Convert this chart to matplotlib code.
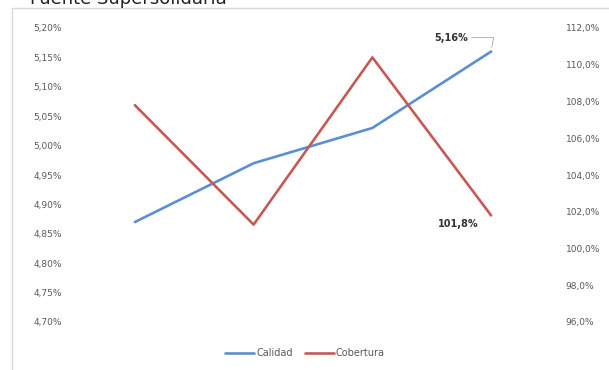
import matplotlib.pyplot as plt
from matplotlib.patches import Rectangle
from matplotlib.ticker import FuncFormatter

# Series
periodos = ["2013", "2014", "2015", "2016"]
calidad = [4.87, 4.97, 5.03, 5.16]
cobertura = [107.8, 101.3, 110.4, 101.8]

ticks_izq = [4.70, 4.75, 4.80, 4.85, 4.90, 4.95, 5.00, 5.05, 5.10, 5.15, 5.20]
ticks_der = [96, 98, 100, 102, 104, 106, 108, 110, 112]

azul = "#5B8FD0"
rojo = "#C55A55"
gris = "#595959"

fig = plt.figure(figsize=(6.09, 3.70), dpi=100)

# marco del grafico
fig.patches.append(Rectangle((12 / 609, -0.1), 1.2, 1 - 8 / 370 + 0.1,
                             transform=fig.transFigure, fill=False,
                             edgecolor="#d9d9d9", linewidth=1.0))
fig.text(30 / 609, 1 - 4 / 370, "Fuente Supersolidaria", fontsize=13,
         color="#222222", va="baseline", ha="left")

ax = fig.add_axes([75.5 / 609, 1 - 322 / 370, 475 / 609, 294 / 370])
ax2 = ax.twinx()

x = range(len(periodos))
l1, = ax.plot(x, calidad, color=azul, lw=1.9, solid_capstyle="round", label="Calidad")
l2, = ax2.plot(x, cobertura, color=rojo, lw=1.9, solid_capstyle="round", label="Cobertura")

ax.set_xlim(-0.5, len(periodos) - 0.5)
ax.set_ylim(4.70, 5.20)
ax2.set_ylim(96, 112)
ax.set_yticks(ticks_izq)
ax2.set_yticks(ticks_der)
ax.yaxis.set_major_formatter(FuncFormatter(lambda v, p: f"{v:.2f}%".replace(".", ",")))
ax2.yaxis.set_major_formatter(FuncFormatter(lambda v, p: f"{v:.1f}%".replace(".", ",")))
ax.set_xticks([])

for a in (ax, ax2):
    for s in a.spines.values():
        s.set_visible(False)
    a.tick_params(axis="y", length=0, labelsize=6.5, labelcolor=gris)
ax.tick_params(axis="y", pad=10)
ax2.tick_params(axis="y", pad=11)

# etiquetas del ultimo dato
ax.annotate(f"{calidad[-1]:.2f}%".replace(".", ","), xy=(3, calidad[-1]),
            xytext=(-17, 10), textcoords="offset points", ha="right", va="center",
            fontsize=7, fontweight="bold", color="#333333",
            arrowprops=dict(arrowstyle="-", color="#a6a6a6", lw=0.6,
                            shrinkA=1, shrinkB=3,
                            connectionstyle="angle,angleA=0,angleB=80,rad=0"))
ax2.annotate(f"{cobertura[-1]:.1f}%".replace(".", ","), xy=(3, cobertura[-1]),
             xytext=(-9, -6), textcoords="offset points", ha="right", va="center",
             fontsize=7, fontweight="bold", color="#333333")

fig.legend(handles=[l1, l2], loc="center", bbox_to_anchor=(305 / 609, 1 - 353 / 370),
           ncol=2, frameon=False, fontsize=7, handlelength=3.0, handletextpad=0.2,
           columnspacing=1.2, labelcolor=gris)

fig.savefig("out.png", dpi=100)
